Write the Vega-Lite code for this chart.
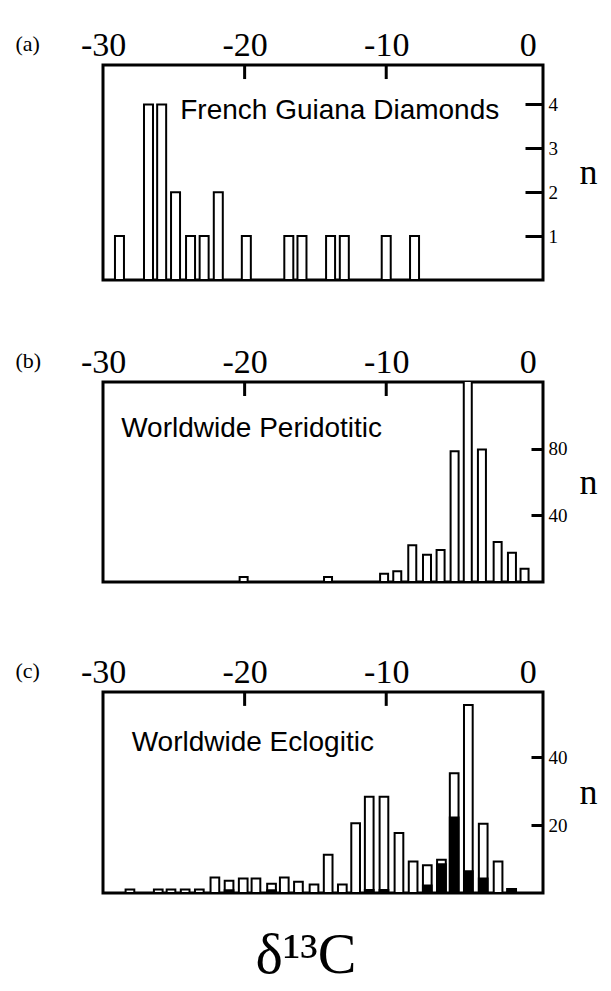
{
  "$schema": "https://vega.github.io/schema/vega-lite/v6.json",
  "padding": {"left": 13, "top": 26, "right": 5, "bottom": 2},
  "background": "white",
  "title": {"text": "δ¹³C", "orient": "bottom", "anchor": "middle", "font": "Liberation Serif", "fontSize": 58, "fontWeight": "normal", "color": "black", "offset": 32},
  "config": {
    "view": {"stroke": "black", "strokeWidth": 3},
    "axisX": {"domain": false, "grid": false, "ticks": false, "labelFont": "Liberation Serif", "labelFontSize": 34, "labelColor": "black", "labelBaseline": "alphabetic", "labelFlush": false, "labelOverlap": false, "labelBound": false, "labelPadding": 10, "titleFont": "Liberation Serif", "titleFontSize": 22, "titleFontWeight": "normal", "titleColor": "black", "titleX": -88, "titleY": -22, "titleAlign": "left", "titleBaseline": "middle", "titleAngle": 0},
    "axisY": {"domain": false, "grid": false, "labelFont": "Liberation Serif", "labelFontSize": 19, "labelColor": "black", "labelBaseline": "middle", "labelAlign": "left", "tickWidth": 3, "tickColor": "black", "titleFont": "Liberation Serif", "titleFontSize": 36, "titleFontWeight": "normal", "titleColor": "black", "titleAngle": 0, "titleAlign": "center", "titleBaseline": "middle", "titleX": 45}
  },
  "vconcat": [
    {
      "spacing": 61,
      "vconcat": [
        {
          "width": 440,
          "height": 215,
          "layer": [
            {
              "data": {"values": [
                {"d": -28.84, "n": 1}, {"d": -26.79, "n": 4}, {"d": -25.86, "n": 4}, {"d": -24.88, "n": 2},
                {"d": -23.82, "n": 1}, {"d": -22.86, "n": 1}, {"d": -21.86, "n": 2}, {"d": -19.88, "n": 1},
                {"d": -16.88, "n": 1}, {"d": -15.95, "n": 1}, {"d": -13.93, "n": 1}, {"d": -12.96, "n": 1},
                {"d": -10.0, "n": 1}, {"d": -8.0, "n": 1}
              ]},
              "mark": {"type": "bar", "width": 9, "fill": "white", "stroke": "black", "strokeWidth": 2, "clip": true},
              "encoding": {
                "x": {"field": "d", "type": "quantitative", "scale": {"domain": [-29.65, 0.72], "nice": false, "zero": false}, "axis": {"orient": "top", "values": [-30, -20, -10, 0], "labelExpr": "'' + datum.value", "title": "(a)"}},
                "y": {"field": "n", "type": "quantitative", "scale": {"domain": [0, 4.9], "nice": false}, "axis": {"orient": "right", "values": [1, 2, 3, 4], "tickSize": -18, "labelPadding": 23, "title": "n", "titleY": 107}}
              }
            },
            {
              "data": {"values": [{"v": -20}, {"v": -10}]},
              "mark": {"type": "rule", "strokeWidth": 3, "stroke": "black"},
              "encoding": {"x": {"field": "v", "type": "quantitative"}, "y": {"datum": 4.9}, "y2": {"datum": 4.58}}
            },
            {
              "data": {"values": [{"t": "French Guiana Diamonds"}]},
              "mark": {"type": "text", "font": "Liberation Sans", "fontSize": 28, "align": "left", "baseline": "alphabetic", "color": "black"},
              "encoding": {"text": {"field": "t"}, "x": {"datum": -24.55}, "y": {"datum": 3.67}}
            }
          ]
        },
        {
          "width": 440,
          "height": 200,
          "layer": [
            {
              "data": {"values": [
                {"d": -20.07, "n": 3}, {"d": -14.11, "n": 3}, {"d": -10.15, "n": 5}, {"d": -9.22, "n": 6.5},
                {"d": -8.16, "n": 22}, {"d": -7.12, "n": 16.4}, {"d": -6.16, "n": 19.2}, {"d": -5.17, "n": 78.5},
                {"d": -4.24, "n": 125}, {"d": -3.24, "n": 79.5}, {"d": -2.13, "n": 24}, {"d": -1.12, "n": 17.5},
                {"d": -0.23, "n": 8}
              ]},
              "mark": {"type": "bar", "width": 8, "fill": "white", "stroke": "black", "strokeWidth": 2, "clip": true},
              "encoding": {
                "x": {"field": "d", "type": "quantitative", "scale": {"domain": [-29.65, 0.72], "nice": false, "zero": false}, "axis": {"orient": "top", "values": [-30, -20, -10, 0], "labelExpr": "'' + datum.value", "title": "(b)"}},
                "y": {"field": "n", "type": "quantitative", "scale": {"domain": [0, 120], "nice": false}, "axis": {"orient": "right", "values": [40, 80], "tickSize": -12, "labelPadding": 17, "title": "n", "titleY": 100}}
              }
            },
            {
              "data": {"values": [{"v": -20}, {"v": -10}]},
              "mark": {"type": "rule", "strokeWidth": 3, "stroke": "black"},
              "encoding": {"x": {"field": "v", "type": "quantitative"}, "y": {"datum": 120}, "y2": {"datum": 111.6}}
            },
            {
              "data": {"values": [{"t": "Worldwide Peridotitic"}]},
              "mark": {"type": "text", "font": "Liberation Sans", "fontSize": 28, "align": "left", "baseline": "alphabetic", "color": "black"},
              "encoding": {"text": {"field": "t"}, "x": {"datum": -28.72}, "y": {"datum": 87.2}}
            }
          ]
        }
      ]
    },
    {
      "width": 440,
      "height": 201,
      "layer": [
        {
          "data": {"name": "ecl", "values": [
            {"d": -28.1, "n": 1, "e": 0}, {"d": -26.1, "n": 1, "e": 0}, {"d": -25.2, "n": 1, "e": 0}, {"d": -24.2, "n": 1, "e": 0},
            {"d": -23.2, "n": 1, "e": 0}, {"d": -22.1, "n": 4.6, "e": 0}, {"d": -21.1, "n": 3.6, "e": 0.8}, {"d": -20.1, "n": 4.3, "e": 0},
            {"d": -19.2, "n": 4.3, "e": 0}, {"d": -18.1, "n": 2.7, "e": 0.8}, {"d": -17.2, "n": 4.6, "e": 0}, {"d": -16.2, "n": 3.3, "e": 0},
            {"d": -15.1, "n": 2.5, "e": 0}, {"d": -14.1, "n": 11.3, "e": 0}, {"d": -13.1, "n": 2.5, "e": 0}, {"d": -12.16, "n": 20.6, "e": 0},
            {"d": -11.2, "n": 28.4, "e": 0.9}, {"d": -10.16, "n": 28.4, "e": 0.9}, {"d": -9.1, "n": 17.7, "e": 0}, {"d": -8.1, "n": 9.3, "e": 0},
            {"d": -7.1, "n": 8.2, "e": 2.2}, {"d": -6.1, "n": 9.8, "e": 8.5}, {"d": -5.2, "n": 35.3, "e": 22.3}, {"d": -4.2, "n": 55.5, "e": 6.4},
            {"d": -3.15, "n": 20.4, "e": 4.3}, {"d": -2.1, "n": 9.3, "e": 0}, {"d": -1.14, "n": 1.2, "e": 1.2}
          ]},
          "mark": {"type": "bar", "width": 8.7, "fill": "white", "stroke": "black", "strokeWidth": 2, "clip": true},
          "encoding": {
            "x": {"field": "d", "type": "quantitative", "scale": {"domain": [-29.65, 0.72], "nice": false, "zero": false}, "axis": {"orient": "top", "values": [-30, -20, -10, 0], "labelExpr": "'' + datum.value", "title": "(c)"}},
            "y": {"field": "n", "type": "quantitative", "scale": {"domain": [0, 59.3], "nice": false}, "axis": {"orient": "right", "values": [20, 40], "tickSize": -12, "labelPadding": 17, "title": "n", "titleY": 100}}
          }
        },
        {
          "data": {"name": "ecl"},
          "transform": [{"filter": "datum.e > 0"}],
          "mark": {"type": "bar", "width": 8.7, "fill": "black", "stroke": "black", "strokeWidth": 2, "clip": true},
          "encoding": {
            "x": {"field": "d", "type": "quantitative"},
            "y": {"field": "e", "type": "quantitative"}
          }
        },
        {
          "data": {"values": [{"v": -20}, {"v": -10}]},
          "mark": {"type": "rule", "strokeWidth": 3, "stroke": "black"},
          "encoding": {"x": {"field": "v", "type": "quantitative"}, "y": {"datum": 59.3}, "y2": {"datum": 55.2}}
        },
        {
          "data": {"values": [{"t": "Worldwide Eclogitic"}]},
          "mark": {"type": "text", "font": "Liberation Sans", "fontSize": 28, "align": "left", "baseline": "alphabetic", "color": "black"},
          "encoding": {"text": {"field": "t"}, "x": {"datum": -27.98}, "y": {"datum": 42}}
        }
      ]
    }
  ],
  "spacing": 69
}
